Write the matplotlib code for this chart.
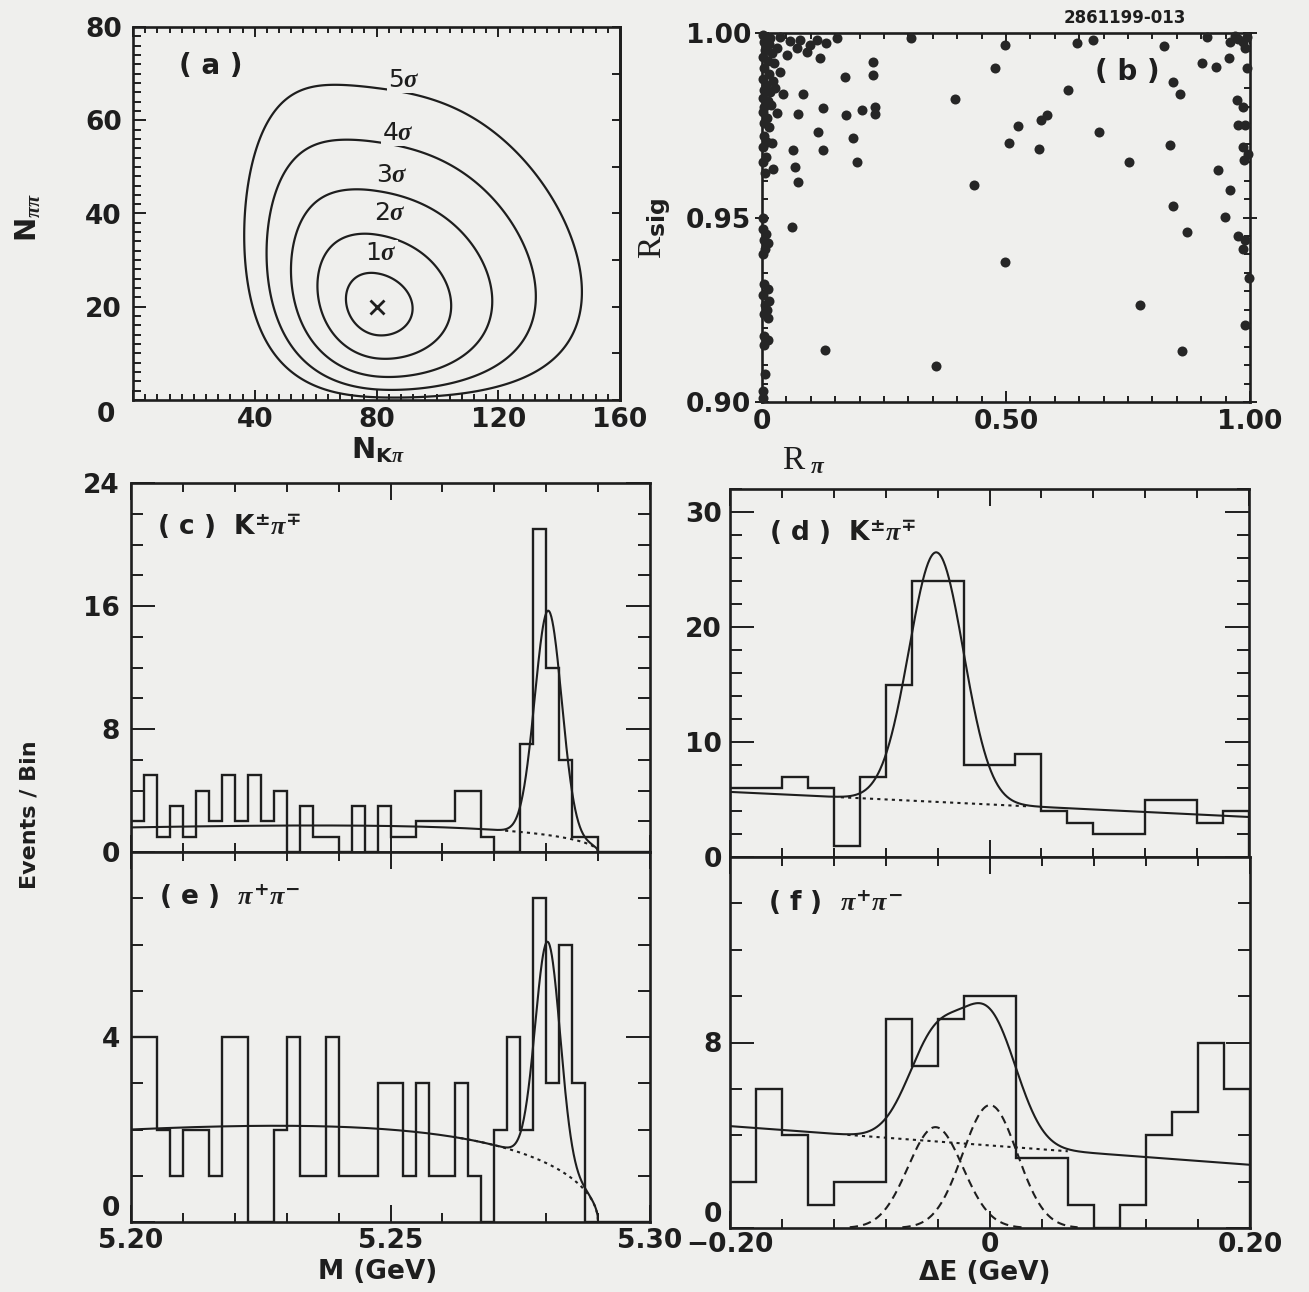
import numpy as np
import matplotlib
matplotlib.use("Agg")
import matplotlib.pyplot as plt
from matplotlib.ticker import MultipleLocator, FixedLocator, FixedFormatter

plt.rcParams.update({
    'font.family': ['DejaVu Sans'],
    'font.weight': 'bold',
    'mathtext.fontset': 'custom',
    'mathtext.rm': 'DejaVu Sans:bold',
    'mathtext.bf': 'DejaVu Sans:bold',
    'mathtext.it': 'Liberation Serif:italic',
    'mathtext.sf': 'Liberation Serif',
    'axes.linewidth': 1.8,
})

# ---------------- data ----------------
# (a) likelihood contours N_pipi vs N_Kpi
sigma_levels = [1, 2, 3, 4, 5]
best_fit = [80.0, 20.0]            # N_Kpi, N_pipi
sqrt_width_x = [0.58, 0.64]        # lower / upper width in sqrt(N_Kpi)
sqrt_width_y = [0.75]              # width in sqrt(N_pipi)
corr_shape = [-0.15, 0.25, 2.5]    # correlation base, skew, scale

# (b) scatter R_sig vs R_pi
R_pi = [0.153, 0.119, 0.228, 0.228, 0.170, 0.037, 0.085, 0.044, 0.126, 0.074,
        0.173, 0.204, 0.232, 0.232, 0.030, 0.115, 0.187, 0.064, 0.126, 0.020,
        0.194, 0.023, 0.068, 0.074, 0.061, 0.129,
        0.016, 0.037, 0.057, 0.078, 0.098, 0.112, 0.030, 0.051, 0.071, 0.092, 0.132,
        0.003, 0.010, 0.004, 0.015, 0.006, 0.020, 0.003, 0.012, 0.025, 0.005,
        0.015, 0.003, 0.022, 0.008, 0.004, 0.016, 0.027, 0.003, 0.012, 0.005,
        0.018, 0.003, 0.010, 0.004, 0.014, 0.004, 0.010, 0.003, 0.008, 0.003,
        0.006, 0.002, 0.003, 0.008, 0.004, 0.012, 0.006, 0.003, 0.004, 0.012,
        0.003, 0.015, 0.006, 0.010, 0.004, 0.012, 0.005, 0.012, 0.004, 0.006,
        0.003, 0.002,
        0.305, 0.498, 0.477, 0.395, 0.627, 0.645, 0.679, 0.584, 0.572, 0.524,
        0.507, 0.567, 0.691, 0.752, 0.434, 0.498, 0.774, 0.356,
        0.823, 0.911, 0.901, 0.930, 0.956, 0.959, 0.843, 0.857, 0.836, 0.935,
        0.959, 0.843, 0.949, 0.870, 0.860,
        0.975, 0.985, 0.993, 0.970, 0.990, 0.993, 0.973, 0.986, 0.976, 0.990,
        0.985, 0.995, 0.988, 0.975, 0.990, 0.985, 0.997, 0.990]
R_sig = [0.9986, 0.9931, 0.9922, 0.9886, 0.9882, 0.9895, 0.9836, 0.9836, 0.9796, 0.9780,
         0.9778, 0.9791, 0.9800, 0.9780, 0.9782, 0.9733, 0.9716, 0.9683, 0.9683, 0.9701,
         0.9651, 0.9631, 0.9638, 0.9597, 0.9475, 0.9141,
         0.9986, 0.9990, 0.9977, 0.9981, 0.9967, 0.9981, 0.9958, 0.9940, 0.9958, 0.9949, 0.9972,
         0.9995, 0.9990, 0.9975, 0.9970, 0.9955, 0.9945, 0.9935, 0.9925, 0.9918, 0.9905,
         0.9890, 0.9875, 0.9870, 0.9860, 0.9845, 0.9840, 0.9850, 0.9825, 0.9815, 0.9800,
         0.9805, 0.9785, 0.9770, 0.9755, 0.9745, 0.9720, 0.9705, 0.9690, 0.9665, 0.9650,
         0.9620, 0.9500, 0.9470, 0.9455, 0.9440, 0.9430, 0.9415, 0.9400, 0.9320, 0.9305,
         0.9290, 0.9275, 0.9262, 0.9250, 0.9238, 0.9228, 0.9180, 0.9168, 0.9155, 0.9075,
         0.9030, 0.9010,
         0.9986, 0.9967, 0.9904, 0.9820, 0.9846, 0.9972, 0.9982, 0.9778, 0.9764, 0.9748,
         0.9703, 0.9685, 0.9733, 0.9651, 0.9588, 0.9380, 0.9263, 0.9098,
         0.9966, 0.9990, 0.9920, 0.9909, 0.9931, 0.9976, 0.9868, 0.9834, 0.9696, 0.9629,
         0.9575, 0.9532, 0.9502, 0.9462, 0.9138,
         0.9985, 0.9975, 0.9990, 0.9992, 0.9960, 0.9906, 0.9818, 0.9800, 0.9751, 0.9751,
         0.9690, 0.9672, 0.9655, 0.9450, 0.9440, 0.9415, 0.9336, 0.9209]

# (c)-(f) histograms
mass_range = [5.20, 5.30]
mass_nbins = 40
de_range = [-0.20, 0.20]
de_nbins = 20
kpi_mass_counts = [2, 5, 1, 3, 1, 4, 2, 5, 2, 5, 2, 4, 0, 3, 1, 1, 0, 3, 0, 3,
                   1, 1, 2, 2, 2, 4, 4, 1, 0, 0, 7, 21, 12, 6, 1, 1, 0, 0, 0, 0]
pipi_mass_counts = [4, 4, 2, 1, 2, 2, 1, 4, 4, 0, 0, 2, 4, 1, 1, 4, 1, 1, 1, 3,
                    3, 1, 3, 1, 1, 3, 1, 0, 2, 4, 2, 7, 3, 6, 3, 0, 0, 0, 0, 0]
kpi_de_counts = [6, 6, 7, 6, 1, 7, 15, 24, 24, 8, 8, 9, 4, 3, 2, 2, 5, 5, 3, 4]
pipi_de_counts = [2, 6, 4, 1, 2, 2, 9, 7, 9, 10, 10, 3, 3, 1, 0, 1, 4, 5, 8, 6]

# fit parameters
kpi_mass_bkg = [1.6, 5.29, 24.0]        # level at 5.20, endpoint, ARGUS shape
kpi_mass_sig = [14.6, 5.2804, 0.0026]   # amplitude, mean, sigma
pipi_mass_bkg = [2.0, 5.29, 21.0]
pipi_mass_sig = [4.8, 5.2803, 0.0024]
kpi_de_bkg = [4.57, -5.45]              # intercept, slope
kpi_de_sig = [21.7, -0.041, 0.021]
pipi_de_bkg = [3.56, -4.17]
pipi_de_kpi = [4.35, -0.042, 0.021]
pipi_de_pipi = [5.3, 0.0, 0.021]

# ---------------- style ----------------
BG = '#efefed'
INK = '#1e1e1e'
W, H = 1309, 1292
fig = plt.figure(figsize=(W / 100, H / 100), dpi=100, facecolor=BG)


def rect(x0, x1, y0, y1):
    return [x0 / W, 1 - y1 / H, (x1 - x0) / W, (y1 - y0) / H]


axA = fig.add_axes(rect(133, 620, 27, 400))
axB = fig.add_axes(rect(762, 1250, 33, 402))
axC = fig.add_axes(rect(131, 650, 483, 852))
axE = fig.add_axes(rect(131, 650, 852, 1222))
axD = fig.add_axes(rect(730, 1249, 489, 857))
axF = fig.add_axes(rect(730, 1250, 857, 1228))

TICKFS = 19


def style(ax, xmaj, xlabels, xminor, ymaj, ylabels, yminor,
          xlen=(12, 6.5), ylen=(17, 8.5), xpad=5, ypad=8):
    ax.set_facecolor(BG)
    for s in ax.spines.values():
        s.set_color(INK)
        s.set_linewidth(1.9)
    ax.xaxis.set_major_locator(FixedLocator(xmaj))
    ax.xaxis.set_major_formatter(FixedFormatter(xlabels))
    ax.xaxis.set_minor_locator(MultipleLocator(xminor))
    ax.yaxis.set_major_locator(FixedLocator(ymaj))
    ax.yaxis.set_major_formatter(FixedFormatter(ylabels))
    ax.yaxis.set_minor_locator(MultipleLocator(yminor))
    ax.tick_params(which='both', direction='in', top=True, right=True,
                   color=INK, width=1.4, labelsize=TICKFS, labelcolor=INK)
    ax.tick_params(axis='x', which='major', length=xlen[0], pad=xpad)
    ax.tick_params(axis='x', which='minor', length=xlen[1])
    ax.tick_params(axis='y', which='major', length=ylen[0], pad=ypad)
    ax.tick_params(axis='y', which='minor', length=ylen[1])
    for lab in ax.get_xticklabels() + ax.get_yticklabels():
        lab.set_fontweight('bold')


# ---------------- (a) ----------------
axA.set_xlim(0, 160)
axA.set_ylim(0, 80)
gx = np.linspace(0.05, 160, 700)
gy = np.linspace(0.05, 80, 500)
X, Y = np.meshgrid(gx, gy)
du = np.sqrt(X) - np.sqrt(best_fit[0])
u = np.where(du < 0, du / sqrt_width_x[0], du / sqrt_width_x[1])
v = (np.sqrt(Y) - np.sqrt(best_fit[1])) / sqrt_width_y[0]
rho = corr_shape[0] + corr_shape[1] * np.tanh(u / corr_shape[2])
Q = (u ** 2 - 2 * rho * u * v + v ** 2) / (1 - rho ** 2)
axA.contour(X, Y, Q, levels=[n ** 2 for n in sigma_levels], colors=INK, linewidths=1.6)
axA.plot([best_fit[0]], [best_fit[1]], marker='x', ms=10, mew=2.0, color=INK, ls='none')
label_xy = [(81.6, 31.6), (84.3, 40.0), (85.0, 48.3), (87.0, 57.3), (89.0, 68.6)]
for n, (lx, ly) in zip(sigma_levels, label_xy):
    axA.text(lx, ly, f'{n}$\\sigma$', fontsize=18, fontweight='normal', color=INK,
             ha='center', va='center', bbox=dict(fc=BG, ec='none', pad=0.5))
style(axA, [0, 40, 80, 120, 160], ['', '40', '80', '120', '160'], 4,
      [0, 20, 40, 60, 80], ['', '20', '40', '60', '80'], 2,
      xlen=(7, 4), ylen=(9, 5.5), xpad=5, ypad=8)
axA.tick_params(axis='y', which='both', right=False)
secA = axA.secondary_yaxis('right')
secA.yaxis.set_major_locator(MultipleLocator(10))
secA.tick_params(direction='in', length=6, width=1.4, color=INK, labelright=False)
secA.spines['right'].set_linewidth(1.9)
axA.text(-0.055, -0.04, '0', transform=axA.transAxes, fontsize=TICKFS, ha='center',
         va='center', color=INK)
axA.text(0.16, 0.895, '( a )', transform=axA.transAxes, fontsize=20, ha='center',
         va='center', color=INK)
axA.text(0.503, -0.135, r'N$_{\mathrm{K}\pi}$', transform=axA.transAxes, fontsize=21,
         ha='center', va='center', color=INK)
axA.text(-0.215, 0.49, r'N$_{\pi\pi}$', transform=axA.transAxes, fontsize=21,
         ha='center', va='center', rotation=90, color=INK)

# ---------------- (b) ----------------
axB.set_xlim(0, 1.0)
axB.set_ylim(0.90, 1.00)
axB.scatter(R_pi, R_sig, s=52, c='#262626', linewidths=0, clip_on=False, zorder=3)
style(axB, [0, 0.5, 1.0], ['0', '0.50', '1.00'], 0.05,
      [0.90, 0.95, 1.00], ['0.90', '0.95', '1.00'], 0.005,
      xlen=(8, 4.5), ylen=(8, 4), xpad=5, ypad=3)
axB.tick_params(axis='y', which='major', direction='inout', length=10)
axB.text(0.748, 0.894, '( b )', transform=axB.transAxes, fontsize=20, ha='center',
         va='center', color=INK)
axB.text(-0.22, 0.47, r'R$_{\mathrm{sig}}$', transform=axB.transAxes, fontsize=24,
         ha='center', va='center', rotation=90, color=INK, family='Liberation Serif',
         fontweight='normal')
axB.text(0.085, -0.16, r'R$_{\ \pi}$', transform=axB.transAxes, fontsize=24,
         ha='center', va='center', color=INK, family='Liberation Serif',
         fontweight='normal')
fig.text(1125 / W, 1 - 18 / H, '2861199-013', fontsize=12, ha='center', va='center',
         color=INK)

# ---------------- helpers for fits ----------------


def argus(m, lvl, end, xi):
    z = np.clip(1 - (m / end) ** 2, 0, None)
    f = m * np.sqrt(z) * np.exp(-xi * z)
    z0 = 1 - (mass_range[0] / end) ** 2
    f0 = mass_range[0] * np.sqrt(z0) * np.exp(-xi * z0)
    return lvl * f / f0


def gauss(x, a, mu, s):
    return a * np.exp(-0.5 * ((x - mu) / s) ** 2)


mass_edges = np.linspace(mass_range[0], mass_range[1], mass_nbins + 1)
de_edges = np.linspace(de_range[0], de_range[1], de_nbins + 1)
mgrid = np.linspace(mass_range[0], kpi_mass_bkg[1], 900)
dgrid = np.linspace(de_range[0], de_range[1], 900)
LW_H = 1.7
LW_F = 1.5
DOT = (0, (1.5, 2.0))
DASH = (0, (4.0, 2.5))

# ---------------- (c) ----------------
axC.set_xlim(*mass_range)
axC.set_ylim(0, 24)
axC.stairs(kpi_mass_counts, mass_edges, color=INK, lw=LW_H)
bc = argus(mgrid, *kpi_mass_bkg)
axC.plot(mgrid, bc + gauss(mgrid, *kpi_mass_sig), color=INK, lw=LW_F)
sel = mgrid > 5.272
axC.plot(mgrid[sel], bc[sel], color=INK, lw=LW_F, ls=DOT)
style(axC, [5.20, 5.25, 5.30], ['', '', ''], 0.01,
      [0, 8, 16, 24], ['0', '8', '16', '24'], 2)
axC.text(0.05, 0.88, r'( c )  $\mathrm{K}^{\pm}\pi^{\mp}$', transform=axC.transAxes,
         fontsize=19, ha='left', va='center', color=INK)

# ---------------- (e) ----------------
axE.set_xlim(*mass_range)
axE.set_ylim(0, 8)
axE.stairs(pipi_mass_counts, mass_edges, color=INK, lw=LW_H)
be = argus(mgrid, *pipi_mass_bkg)
axE.plot(mgrid, be + gauss(mgrid, *pipi_mass_sig), color=INK, lw=LW_F)
sel = mgrid > 5.262
axE.plot(mgrid[sel], be[sel], color=INK, lw=LW_F, ls=DOT)
style(axE, [5.20, 5.25, 5.30], ['5.20', '5.25', '5.30'], 0.01,
      [0, 4, 8], ['0', '4', ''], 1, xpad=4)
axE.yaxis.get_major_ticks()[0].label1.set_verticalalignment('bottom')
axE.text(0.054, 0.878, r'( e )  $\pi^{+}\pi^{-}$', transform=axE.transAxes,
         fontsize=19, ha='left', va='center', color=INK)
axE.text(0.475, -0.135, 'M (GeV)', transform=axE.transAxes, fontsize=19,
         ha='center', va='center', color=INK)

# ---------------- (d) ----------------
axD.set_xlim(*de_range)
axD.set_ylim(0, 32)
axD.stairs(kpi_de_counts, de_edges, color=INK, lw=LW_H)
bd = kpi_de_bkg[0] + kpi_de_bkg[1] * dgrid
axD.plot(dgrid, bd + gauss(dgrid, *kpi_de_sig), color=INK, lw=LW_F)
sel = (dgrid > -0.115) & (dgrid < 0.03)
axD.plot(dgrid[sel], bd[sel], color=INK, lw=LW_F, ls=DOT)
style(axD, [-0.20, 0.0, 0.20], ['', '', ''], 0.04,
      [0, 10, 20, 30], ['0', '10', '20', '30'], 2, ypad=6)
axD.text(0.075, 0.88, r'( d )  $\mathrm{K}^{\pm}\pi^{\mp}$', transform=axD.transAxes,
         fontsize=19, ha='left', va='center', color=INK)

# ---------------- (f) ----------------
axF.set_xlim(*de_range)
axF.set_ylim(0, 16)
axF.stairs(pipi_de_counts, de_edges, color=INK, lw=LW_H)
bf = pipi_de_bkg[0] + pipi_de_bkg[1] * dgrid
g1 = gauss(dgrid, *pipi_de_kpi)
g2 = gauss(dgrid, *pipi_de_pipi)
axF.plot(dgrid, bf + g1 + g2, color=INK, lw=LW_F)
sel = (dgrid > -0.11) & (dgrid < 0.06)
axF.plot(dgrid[sel], bf[sel], color=INK, lw=LW_F, ls=DOT)
for g in (g1, g2):
    gm = np.where(g > 0.03, g, np.nan)
    axF.plot(dgrid, gm, color=INK, lw=LW_F, ls=DASH)
style(axF, [-0.20, 0.0, 0.20], ['\u22120.20', '0', '0.20'], 0.04,
      [0, 8, 16], ['0', '8', ''], 2, xpad=3, ypad=6)
axF.yaxis.get_major_ticks()[0].label1.set_verticalalignment('bottom')
axF.text(0.073, 0.876, r'( f )  $\pi^{+}\pi^{-}$', transform=axF.transAxes,
         fontsize=19, ha='left', va='center', color=INK)
axF.text(0.49, -0.12, '\u0394E (GeV)', transform=axF.transAxes, fontsize=19,
         ha='center', va='center', color=INK)

fig.text(30 / W, 1 - 815 / H, 'Events / Bin', rotation=90, fontsize=16,
         ha='center', va='center', color=INK)

fig.savefig('out.png', dpi=100, facecolor=BG)
